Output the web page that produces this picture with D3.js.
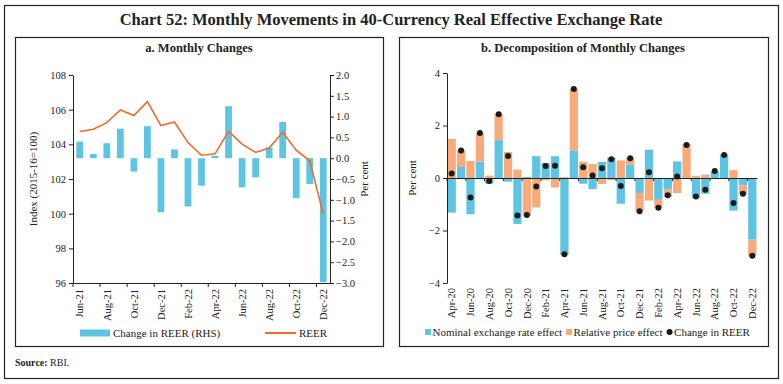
<!DOCTYPE html>
<html>
<head>
<meta charset="utf-8">
<script src="https://cdn.jsdelivr.net/npm/d3@7"></script>
<style>
  body { margin: 0; background: #fff; }
  svg text { font-family: "Liberation Serif", "DejaVu Serif", serif; fill: #222; }
  .axis path, .axis line { stroke: #222; }
  .axis text { font-size: 10.5px; }
</style>
</head>
<body>
<svg id="chart" width="783" height="384"></svg>
<script>

//============================================================
// Data
//------------------------------------------------------------

// a. Monthly Changes
var monthsA = ['Jun-21', 'Jul-21', 'Aug-21', 'Sep-21', 'Oct-21', 'Nov-21', 'Dec-21', 'Jan-22',
  'Feb-22', 'Mar-22', 'Apr-22', 'May-22', 'Jun-22', 'Jul-22', 'Aug-22', 'Sep-22', 'Oct-22',
  'Nov-22', 'Dec-22'];
var reerChange = [0.40, 0.10, 0.36, 0.71, -0.32, 0.77, -1.30, 0.21, -1.16, -0.66, 0.06, 1.25,
  -0.70, -0.46, 0.26, 0.87, -0.96, -0.62, -2.98];
var reerIndex = [104.74, 104.87, 105.25, 105.98, 105.66, 106.46, 105.08, 105.29, 104.10, 103.37,
  103.45, 104.76, 104.01, 103.53, 103.79, 104.70, 103.66, 103.05, 99.99];
var indexTicks = [96, 98, 100, 102, 104, 106, 108];
var pctTicks = [-3.0, -2.5, -2.0, -1.5, -1.0, -0.5, 0.0, 0.5, 1.0, 1.5, 2.0];

// b. Decomposition of Monthly Changes
var monthsB = ['Apr-20', 'May-20', 'Jun-20', 'Jul-20', 'Aug-20', 'Sep-20', 'Oct-20', 'Nov-20',
  'Dec-20', 'Jan-21', 'Feb-21', 'Mar-21', 'Apr-21', 'May-21', 'Jun-21', 'Jul-21', 'Aug-21',
  'Sep-21', 'Oct-21', 'Nov-21', 'Dec-21', 'Jan-22', 'Feb-22', 'Mar-22', 'Apr-22', 'May-22',
  'Jun-22', 'Jul-22', 'Aug-22', 'Sep-22', 'Oct-22', 'Nov-22', 'Dec-22'];
var nominalEffect = [-1.32, 0.42, -1.38, 0.63, -0.22, 1.45, -0.14, -1.75, 0.04, 0.83, 0.57, 0.83,
  -2.93, 1.05, -0.22, -0.42, 0.61, 0.78, -0.98, 0.52, -0.57, 1.08, -0.83, -0.44, 0.63, -0.04,
  -0.76, -0.60, 0.25, 0.90, -1.24, -0.28, -2.35];
var priceEffect = [1.49, 0.64, 0.65, 1.08, 0.09, 0.99, 0.99, 0.32, -1.45, -1.12, -0.09, -0.36,
  0.03, 2.35, 0.62, 0.53, -0.23, -0.08, 0.67, 0.25, -0.70, -0.86, -0.31, -0.29, -0.57, 1.30,
  0.08, 0.13, 0.02, -0.02, 0.30, -0.34, -0.63];
var reerChangeB = [0.17, 1.05, -0.74, 1.71, -0.11, 2.43, 0.84, -1.43, -1.41, -0.32, 0.46, 0.47,
  -2.90, 3.39, 0.41, 0.10, 0.37, 0.71, -0.30, 0.75, -1.27, 0.22, -1.13, -0.66, 0.06, 1.26,
  -0.70, -0.45, 0.27, 0.88, -0.95, -0.60, -2.96];
var pctTicksB = [-4, -2, 0, 2, 4];

var blue = '#5ec4e3',
    salmon = '#f9aa7b',
    orange = '#f06a2c';

var svg = d3.select('#chart');

//============================================================
// Frames and titles
//------------------------------------------------------------

svg.append('rect')
  .attr('x', 4.5).attr('y', 5.5).attr('width', 774).attr('height', 373)
  .attr('fill', 'none').attr('stroke', '#222').attr('stroke-width', 1.2);
svg.append('rect')
  .attr('x', 15.5).attr('y', 37.5).attr('width', 368).attr('height', 309)
  .attr('fill', 'none').attr('stroke', '#222').attr('stroke-width', 1.2);
svg.append('rect')
  .attr('x', 399.5).attr('y', 37.5).attr('width', 369).attr('height', 309)
  .attr('fill', 'none').attr('stroke', '#222').attr('stroke-width', 1.2);

svg.append('text')
  .attr('x', 391).attr('y', 25)
  .attr('text-anchor', 'middle')
  .style('font-size', '16.5px').style('font-weight', 'bold')
  .text('Chart 52: Monthly Movements in 40-Currency Real Effective Exchange Rate');

svg.append('text')
  .attr('x', 199).attr('y', 52)
  .attr('text-anchor', 'middle')
  .style('font-size', '12.5px').style('font-weight', 'bold')
  .text('a. Monthly Changes');
svg.append('text')
  .attr('x', 583).attr('y', 52)
  .attr('text-anchor', 'middle')
  .style('font-size', '12.5px').style('font-weight', 'bold')
  .text('b. Decomposition of Monthly Changes');

var src = svg.append('text').attr('x', 15).attr('y', 366).style('font-size', '10px');
src.append('tspan').style('font-weight', 'bold').text('Source: ');
src.append('tspan').text('RBI.');

// every other month gets a label; the tick sits on the band's left edge
function monthAxis(axis, scale) {
  axis.selectAll('.tick line')
    .attr('x1', -scale.step() / 2)
    .attr('x2', -scale.step() / 2);
}

//============================================================
// a. Monthly Changes
//------------------------------------------------------------

var a = {left: 73, right: 330, top: 75, bottom: 283};

var xA = d3.scaleBand().domain(monthsA).range([a.left, a.right]);
var yIdx = d3.scaleLinear().domain([96, 108]).range([a.bottom, a.top]);
var yPct = d3.scaleLinear().domain([-3, 2]).range([a.bottom, a.top]);

var barW = xA.step() * 0.5;

svg.append('g').attr('class', 'bars-a')
  .selectAll('rect')
  .data(monthsA)
  .enter().append('rect')
    .attr('x', function(d) { return xA(d) + (xA.bandwidth() - barW) / 2; })
    .attr('width', barW)
    .attr('y', function(d, i) { return yPct(Math.max(0, reerChange[i])); })
    .attr('height', function(d, i) { return Math.abs(yPct(reerChange[i]) - yPct(0)); })
    .attr('fill', blue);

svg.append('path')
  .datum(reerIndex)
  .attr('fill', 'none')
  .attr('stroke', orange)
  .attr('stroke-width', 1.6)
  .attr('d', d3.line()
    .x(function(d, i) { return xA(monthsA[i]) + xA.bandwidth() / 2; })
    .y(function(d) { return yIdx(d); }));

svg.append('g').attr('class', 'axis')
  .attr('transform', 'translate(' + a.left + ',0)')
  .call(d3.axisLeft(yIdx).tickValues(indexTicks).tickSize(4).tickPadding(3).tickSizeOuter(0));

svg.append('g').attr('class', 'axis')
  .attr('transform', 'translate(' + a.right + ',0)')
  .call(d3.axisRight(yPct).tickValues(pctTicks).tickFormat(d3.format('.1f')).tickSize(4).tickPadding(2).tickSizeOuter(0));

var xAxisA = svg.append('g').attr('class', 'axis')
  .attr('transform', 'translate(0,' + a.bottom + ')')
  .call(d3.axisBottom(xA)
    .tickValues(monthsA.filter(function(d, i) { return i % 2 === 0; }))
    .tickSize(4).tickSizeOuter(0));
monthAxis(xAxisA, xA);
xAxisA.selectAll('.tick text')
  .attr('transform', 'rotate(-90)')
  .attr('text-anchor', 'end')
  .attr('x', -6).attr('y', 0).attr('dy', '0.35em');

svg.append('text')
  .attr('transform', 'translate(37,' + ((a.top + a.bottom) / 2) + ') rotate(-90)')
  .attr('text-anchor', 'middle')
  .style('font-size', '11px')
  .text('Index (2015-16=100)');
svg.append('text')
  .attr('transform', 'translate(368,' + ((a.top + a.bottom) / 2) + ') rotate(-90)')
  .attr('text-anchor', 'middle')
  .style('font-size', '11px')
  .text('Per cent');

// legend
var legA = svg.append('g').attr('transform', 'translate(0,333)');
legA.append('rect').attr('x', 80).attr('y', -3.5).attr('width', 30).attr('height', 7).attr('fill', blue);
legA.append('text').attr('x', 113).attr('y', 4).style('font-size', '11px').text('Change in REER (RHS)');
legA.append('line').attr('x1', 265).attr('x2', 296).attr('y1', 0).attr('y2', 0)
  .attr('stroke', orange).attr('stroke-width', 2);
legA.append('text').attr('x', 299).attr('y', 4).style('font-size', '11px').text('REER');

//============================================================
// b. Decomposition of Monthly Changes
//------------------------------------------------------------

var b = {left: 447, right: 757, top: 73, bottom: 283};

var xB = d3.scaleBand().domain(monthsB).range([b.left, b.right]);
var yB = d3.scaleLinear().domain([-4, 4]).range([b.bottom, b.top]);

var table = monthsB.map(function(m, i) {
  return {month: m, nominal: nominalEffect[i], price: priceEffect[i], reer: reerChangeB[i]};
});

var stacked = d3.stack()
  .keys(['nominal', 'price'])
  .offset(d3.stackOffsetDiverging)(table);

var colorB = {nominal: blue, price: salmon};
var barWB = xB.step() * 0.88;

svg.append('g').attr('class', 'bars-b')
  .selectAll('g')
  .data(stacked)
  .enter().append('g')
    .attr('fill', function(s) { return colorB[s.key]; })
  .selectAll('rect')
  .data(function(s) { return s; })
  .enter().append('rect')
    .attr('x', function(d) { return xB(d.data.month) + (xB.bandwidth() - barWB) / 2; })
    .attr('width', barWB)
    .attr('y', function(d) { return yB(d[1]); })
    .attr('height', function(d) { return yB(d[0]) - yB(d[1]); });

svg.append('g').attr('class', 'axis')
  .attr('transform', 'translate(' + b.left + ',0)')
  .call(d3.axisLeft(yB).tickValues(pctTicksB).tickSize(4).tickPadding(3).tickSizeOuter(0));

// zero line with ticks, labels along the bottom
var zeroAxis = svg.append('g').attr('class', 'axis')
  .attr('transform', 'translate(0,' + yB(0) + ')')
  .call(d3.axisBottom(xB)
    .tickValues(monthsB.filter(function(d, i) { return i % 2 === 0; }))
    .tickFormat('').tickSize(3).tickSizeOuter(0));
monthAxis(zeroAxis, xB);

var labelsB = svg.append('g').attr('class', 'axis')
  .attr('transform', 'translate(0,' + b.bottom + ')')
  .call(d3.axisBottom(xB)
    .tickValues(monthsB.filter(function(d, i) { return i % 2 === 0; }))
    .tickSize(0));
labelsB.select('.domain').remove();
labelsB.selectAll('.tick text')
  .attr('transform', 'rotate(-90)')
  .attr('text-anchor', 'end')
  .attr('x', -5).attr('y', 0).attr('dy', '0.35em');

svg.append('g').attr('class', 'dots')
  .selectAll('circle')
  .data(table)
  .enter().append('circle')
    .attr('cx', function(d) { return xB(d.month) + xB.bandwidth() / 2; })
    .attr('cy', function(d) { return yB(d.reer); })
    .attr('r', 3)
    .attr('fill', '#1b1b1b');

svg.append('text')
  .attr('transform', 'translate(416,' + yB(0) + ') rotate(-90)')
  .attr('text-anchor', 'middle')
  .style('font-size', '11px')
  .text('Per cent');

// legend
var legB = svg.append('g').attr('transform', 'translate(425,332)');
var items = [
  {label: 'Nominal exchange rate effect', type: 'rect', color: blue},
  {label: 'Relative price effect', type: 'rect', color: salmon},
  {label: 'Change in REER', type: 'dot', color: '#1b1b1b'}
];
var cursor = 0;
items.forEach(function(it) {
  if (it.type === 'rect') {
    legB.append('rect').attr('x', cursor).attr('y', -3).attr('width', 6).attr('height', 6).attr('fill', it.color);
  } else {
    legB.append('circle').attr('cx', cursor + 3).attr('cy', 0).attr('r', 3).attr('fill', it.color);
  }
  var t = legB.append('text').attr('x', cursor + 7.5).attr('y', 4).style('font-size', '11px').text(it.label);
  cursor += 7.5 + t.node().getComputedTextLength() + 4;
});

</script>
</body>
</html>
